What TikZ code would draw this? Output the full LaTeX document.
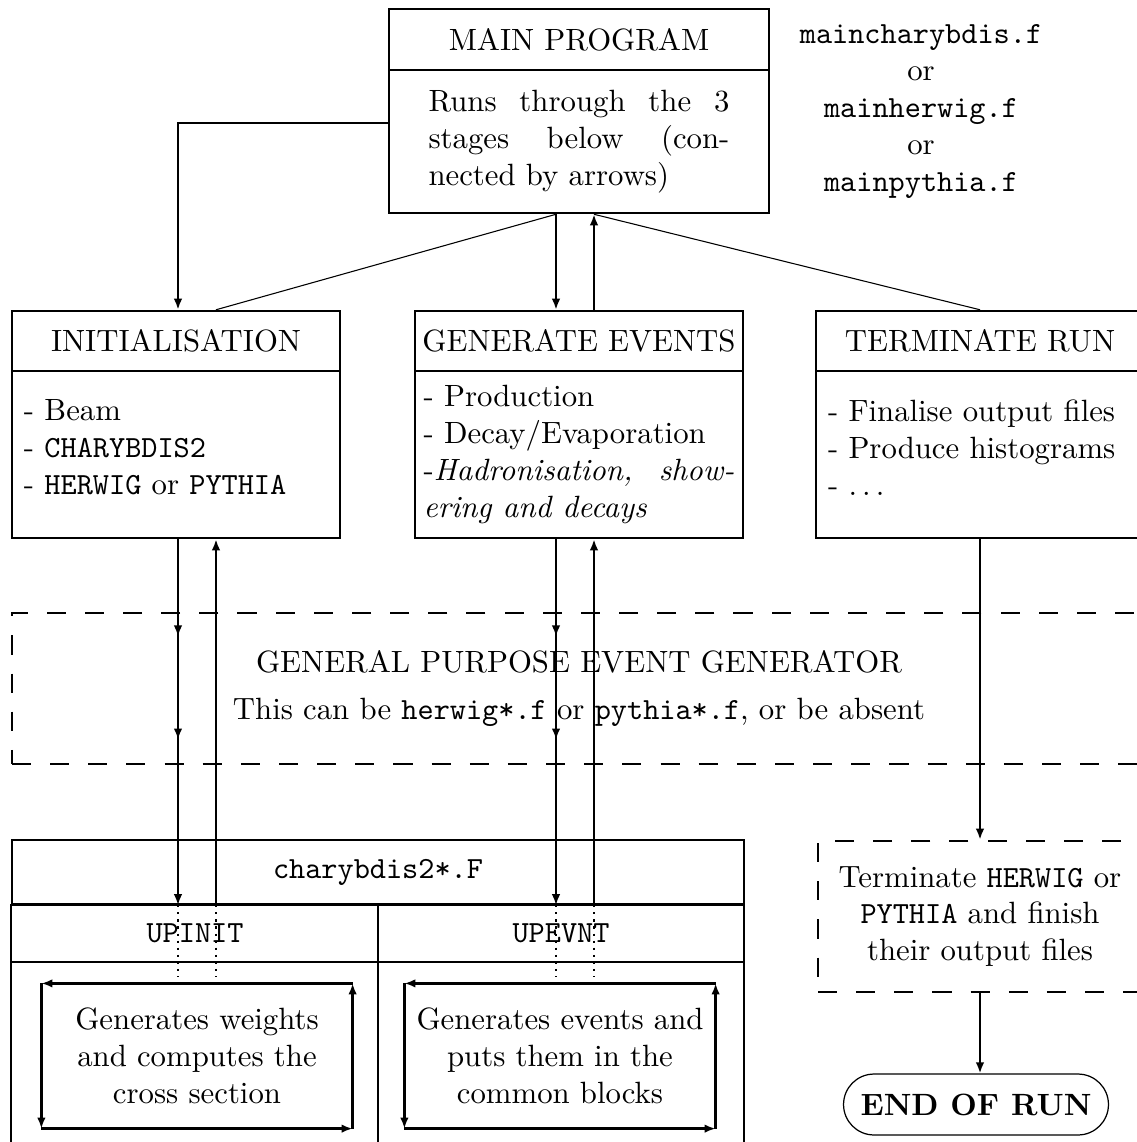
\documentclass[tikz,border=0pt]{standalone}
\usepackage{tikz}
\usetikzlibrary{arrows.meta,decorations.markings}
\usepackage{amsmath}

\begin{document}
\begin{tikzpicture}[x=0.325pt,y=-0.325pt]
    \tikzset{every node/.style={inner sep=0pt},
        box/.style={draw,line width=0.8pt},
        head/.style={box,minimum width=106.6pt,minimum height=19.5pt},
        body/.style={box,minimum width=106.6pt,minimum height=54.3pt,text width=98.8pt,align=left},
        dashbox/.style={draw,line width=0.8pt,dash pattern=on 6.2pt off 6.2pt},
        arr/.style={line width=0.7pt,-{Latex[length=3.6pt,width=2.8pt]}},
        thinline/.style={line width=0.35pt},
        dotline/.style={line width=0.7pt,dash pattern=on 0.7pt off 1.6pt},
        midarrows/.style={postaction={decorate},decoration={markings,
            mark=at position 31.6pt with {\arrow{Latex[length=3.6pt,width=2.8pt]}},
            mark=at position 65.1pt with {\arrow{Latex[length=3.6pt,width=2.8pt]}}}},
        loopbox/.style={minimum width=100.75pt,minimum height=46.8pt,align=center}}
    \useasboundingbox (0,0) rectangle (1137,1142);
    % main program and the three stages
    \node[box,minimum width=123.5pt,minimum height=19.8pt] (mainhead) at (579,39.5) {MAIN PROGRAM};
    \node[box,minimum width=123.5pt,minimum height=46.5pt,text width=97.8pt,align=justify] (mainbody) at (579,141.5)
        {Runs\hfill through\hfill the\hfill 3\\stages\hfill below\hfill (con-\\nected by arrows)};
    \node[align=center] (mainfiles) at (921,111.5)
        {\texttt{maincharybdis.f}\\or\\\texttt{mainherwig.f}\\or\\\texttt{mainpythia.f}};
    \node[head] (inithead) at (176,341) {INITIALISATION};
    \node[body] (initbody) at (176,454.5)
        {- Beam\\- \texttt{CHARYBDIS2}\\- \texttt{HERWIG} or \texttt{PYTHIA}\par\kern4.5pt};
    \node[head] (genhead) at (579,341) {GENERATE EVENTS};
    \node[body,text width=101pt,align=justify] (genbody) at (579,454.5)
        {- Production\\- Decay/Evaporation\\-\textit{Hadronisation,\hfill show-}\\\textit{ering and decays}};
    \node[head] (termhead) at (980,341) {TERMINATE RUN};
    \node[body] (termbody) at (980,454.5)
        {- Finalise output files\\- Produce histograms\\- $\ldots$\par\kern4.5pt};
    \node[dashbox,minimum width=368.6pt,minimum height=49.1pt,align=center] (gpeg) at (579,688.5)
        {GENERAL PURPOSE EVENT GENERATOR\\[3pt]This can be \texttt{herwig*.f} or \texttt{pythia*.f}, or be absent};
    % charybdis2 routines
    \node[box,minimum width=237.9pt,minimum height=20.8pt] (chead) at (378,872) {\texttt{charybdis2*.F}};
    \draw[box] (chead.south west) rectangle (744,1170);
    \draw[box] (chead.south) -- (378,1170);
    \draw[line width=0.5pt] (12,962) -- (744,962);
    \node (upinit) at (195,933) {\texttt{UPINIT}};
    \node (upevnt) at (561,933) {\texttt{UPEVNT}};
    \node[loopbox] (wgtbox) at (197,1056) {Generates weights\\and computes the\\cross section};
    \node[loopbox] (evtbox) at (560,1056) {Generates events and\\puts them in the\\common blocks};
    \foreach \b in {wgtbox,evtbox} {
        \draw[arr,line width=0.8pt] (\b.north east) -- (\b.north west);
        \draw[arr,line width=0.8pt] (\b.north west) -- (\b.south west);
        \draw[arr,line width=0.8pt] (\b.south west) -- (\b.south east);
        \draw[arr,line width=0.8pt] (\b.south east) -- (\b.north east);
    }
    \node[dashbox,minimum width=105.3pt,minimum height=49.1pt,align=center] (termgen) at (980,916.5)
        {Terminate \texttt{HERWIG} or\\\texttt{PYTHIA} and finish\\their output files};
    \node[draw,line width=0.4pt,rounded corners=9.9pt,minimum width=86.1pt,minimum height=19.8pt] (endrun) at (976,1104.5)
        {\textbf{END OF RUN}};
    % connectors
    \coordinate (idown) at (178,0);
    \coordinate (iup) at (216,0);
    \coordinate (gdown) at (556,0);
    \coordinate (gup) at (594,0);
    \coordinate (tdown) at (980,0);
    \coordinate (initturn) at (178,123);
    \draw[arr,line width=0.8pt] (mainbody.west |- initturn) -| (inithead.north -| idown);
    \draw[thinline] (mainbody.south -| gdown) -- (inithead.north -| iup);
    \draw[arr] (mainbody.south -| gdown) -- (genhead.north -| gdown);
    \draw[arr] (genhead.north -| gup) -- (mainbody.south -| gup);
    \draw[thinline] (mainbody.south -| gup) -- (termhead.north -| tdown);
    \draw[arr,line width=0.8pt,midarrows] (initbody.south -| idown) -- (chead.south -| idown);
    \draw[arr] (chead.south -| iup) -- (initbody.south -| iup);
    \draw[arr,midarrows] (genbody.south -| gdown) -- (chead.south -| gdown);
    \draw[arr] (chead.south -| gup) -- (genbody.south -| gup);
    \draw[arr] (termbody.south -| tdown) -- (termgen.north);
    \draw[arr] (termgen.south) -- (termgen.south |- endrun.north);
    \foreach \c in {idown,iup} \draw[dotline] (chead.south -| \c) -- ([yshift=2pt]wgtbox.north -| \c);
    \foreach \c in {gdown,gup} \draw[dotline] (chead.south -| \c) -- ([yshift=2pt]evtbox.north -| \c);
\end{tikzpicture}
\end{document}
